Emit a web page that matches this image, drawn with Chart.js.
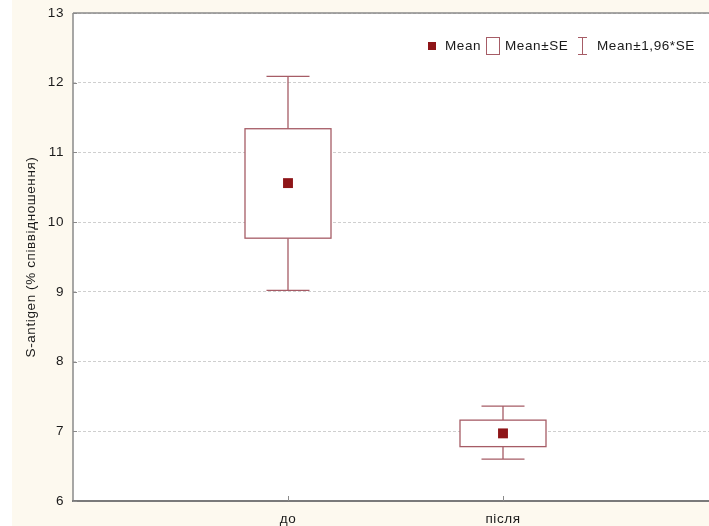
<!DOCTYPE html>
<html>
<head>
<meta charset="utf-8">
<script src="https://cdn.jsdelivr.net/npm/chart.js@4.4.0/dist/chart.umd.min.js"></script>
<style>
  html, body { margin: 0; padding: 0; overflow: hidden; background: #ffffff; }
  #wrap { width: 709px; height: 526px; overflow: hidden; }
  canvas { display: block; }
</style>
</head>
<body>
<div id="wrap"><canvas id="c" width="730" height="526"></canvas></div>
<script>
// Categories and summary statistics (S-antigen, %)
const categories = ['до', 'після'];
const means  = [10.56, 6.97];
const seLow  = [9.77, 6.78];
const seHigh = [11.34, 7.16];
const ciLow  = [9.02, 6.60];
const ciHigh = [12.09, 7.36];
const yTicks = [6, 7, 8, 9, 10, 11, 12, 13];
const legendLabels = ['Mean', 'Mean±SE', 'Mean±1,96*SE'];

const FONT = '"Liberation Sans", Arial, sans-serif';
const LINE = '#a65c66';
const MARK = '#8e1518';
const CREAM = '#fdf9ef';
const TRACK = '0.6px';

// Background: cream page, white plot area; slightly tracked text everywhere
const background = {
  id: 'background',
  beforeDraw(chart) {
    const { ctx, chartArea: a } = chart;
    ctx.letterSpacing = TRACK;
    ctx.save();
    ctx.fillStyle = '#ffffff';
    ctx.fillRect(0, 0, chart.width, chart.height);
    ctx.fillStyle = CREAM;
    ctx.fillRect(12, 0, chart.width - 12, chart.height);
    ctx.fillStyle = '#ffffff';
    ctx.fillRect(a.left, a.top, a.right - a.left, a.bottom - a.top);
    ctx.restore();
  }
};

// SE boxes and 1.96*SE whiskers, positioned through the chart scales
const boxWhiskers = {
  id: 'boxWhiskers',
  beforeDatasetsDraw(chart) {
    const { ctx, scales: { x, y } } = chart;
    ctx.save();
    ctx.strokeStyle = LINE;
    ctx.lineWidth = 1.3;
    categories.forEach((_, i) => {
      const cx = x.getPixelForValue(i + 1);
      const bl = x.getPixelForValue(i + 1 - 0.2), br = x.getPixelForValue(i + 1 + 0.2);
      const cl = x.getPixelForValue(i + 1 - 0.1), cr = x.getPixelForValue(i + 1 + 0.1);
      const yCiHi = y.getPixelForValue(ciHigh[i]);
      const yCiLo = y.getPixelForValue(ciLow[i]);
      const ySeHi = y.getPixelForValue(seHigh[i]);
      const ySeLo = y.getPixelForValue(seLow[i]);
      ctx.beginPath();
      ctx.moveTo(cx, yCiHi); ctx.lineTo(cx, ySeHi);
      ctx.moveTo(cx, ySeLo); ctx.lineTo(cx, yCiLo);
      ctx.moveTo(cl, yCiHi); ctx.lineTo(cr, yCiHi);
      ctx.moveTo(cl, yCiLo); ctx.lineTo(cr, yCiLo);
      ctx.stroke();
      ctx.fillStyle = '#ffffff';
      ctx.fillRect(bl, ySeHi, br - bl, ySeLo - ySeHi);
      ctx.strokeRect(bl, ySeHi, br - bl, ySeLo - ySeHi);
    });
    ctx.restore();
  }
};

// Plot frame, inward tick marks and the legend row
const frame = {
  id: 'frame',
  afterDraw(chart) {
    const { ctx, chartArea: a, scales: { x, y } } = chart;
    ctx.save();
    ctx.strokeStyle = '#8a8a8a';
    ctx.lineWidth = 1.5;
    ctx.beginPath();
    ctx.moveTo(a.left, a.top); ctx.lineTo(a.right + 20, a.top);
    ctx.moveTo(a.left, a.top); ctx.lineTo(a.left, a.bottom);
    ctx.stroke();
    ctx.lineWidth = 2;
    ctx.strokeStyle = '#7a7a7a';
    ctx.beginPath();
    ctx.moveTo(a.left - 1, a.bottom); ctx.lineTo(a.right + 20, a.bottom);
    ctx.stroke();
    // tick marks pointing into the plot
    ctx.lineWidth = 1;
    ctx.strokeStyle = '#8a8a8a';
    ctx.beginPath();
    y.ticks.forEach(t => {
      const py = Math.round(y.getPixelForValue(t.value)) + 0.5;
      ctx.moveTo(a.left, py); ctx.lineTo(a.left + 4, py);
    });
    x.ticks.forEach(t => {
      const px = Math.round(x.getPixelForValue(t.value)) + 0.5;
      ctx.moveTo(px, a.bottom); ctx.lineTo(px, a.bottom - 5);
    });
    ctx.stroke();

    // legend
    const ly = 46;
    ctx.font = '13.5px ' + FONT;
    ctx.letterSpacing = TRACK;
    ctx.textBaseline = 'middle';
    ctx.fillStyle = MARK;
    ctx.fillRect(428, ly - 4, 8, 8);
    let lx = 445;
    ctx.fillStyle = '#1a1a1a';
    ctx.fillText(legendLabels[0], lx, ly);
    lx += ctx.measureText(legendLabels[0]).width + 5;
    lx = Math.round(lx);
    ctx.strokeStyle = LINE;
    ctx.lineWidth = 1;
    ctx.fillStyle = '#ffffff';
    ctx.fillRect(lx + 0.5, ly - 8.5, 13, 17);
    ctx.strokeRect(lx + 0.5, ly - 8.5, 13, 17);
    lx += 19;
    ctx.fillStyle = '#1a1a1a';
    ctx.fillText(legendLabels[1], lx, ly);
    lx += ctx.measureText(legendLabels[1]).width + 10;
    lx = Math.round(lx);
    ctx.beginPath();
    ctx.moveTo(lx, ly - 8.5); ctx.lineTo(lx + 9, ly - 8.5);
    ctx.moveTo(lx + 4.5, ly - 8.5); ctx.lineTo(lx + 4.5, ly + 8.5);
    ctx.moveTo(lx, ly + 8.5); ctx.lineTo(lx + 9, ly + 8.5);
    ctx.stroke();
    lx += 19;
    ctx.fillText(legendLabels[2], lx, ly);
    ctx.restore();
  }
};

new Chart(document.getElementById('c'), {
  type: 'scatter',
  data: {
    datasets: [{
      label: legendLabels[0],
      data: means.map((m, i) => ({ x: i + 1, y: m })),
      pointStyle: 'rect',
      pointRadius: 7,
      pointHoverRadius: 7,
      backgroundColor: MARK,
      borderColor: MARK,
      borderWidth: 0
    }]
  },
  options: {
    responsive: false,
    animation: false,
    events: [],
    layout: { padding: { left: 0, top: 13, right: 12, bottom: 0 } },
    plugins: { legend: { display: false }, tooltip: { enabled: false } },
    scales: {
      x: {
        type: 'linear', min: 0, max: 3,
        afterBuildTicks(scale) { scale.ticks = categories.map((_, i) => ({ value: i + 1 })); },
        afterFit(scale) { scale.height = 25; scale.paddingLeft = 0; scale.paddingRight = 0; },
        ticks: {
          callback: v => categories[v - 1] || '',
          font: { family: FONT, size: 13.5 },
          color: '#1a1a1a',
          padding: 10,
          maxRotation: 0
        },
        grid: { display: false, drawTicks: false },
        border: { display: false }
      },
      y: {
        min: 6, max: 13,
        afterBuildTicks(scale) { scale.ticks = yTicks.map(v => ({ value: v })); },
        afterFit(scale) { scale.width = 73; scale.paddingTop = 0; scale.paddingBottom = 0; },
        ticks: {
          font: { family: FONT, size: 13.5 },
          color: '#1a1a1a',
          padding: 9
        },
        grid: {
          drawTicks: false,
          color: '#cfcfcf',
          lineWidth: 1
        },
        border: { display: false, dash: [3, 2] },
        title: {
          display: true,
          text: 'S-antigen (% співвідношення)',
          font: { family: FONT, size: 13.5 },
          color: '#1a1a1a',
          padding: { top: 23, bottom: 0 }
        }
      }
    }
  },
  plugins: [background, boxWhiskers, frame]
});
</script>
</body>
</html>
